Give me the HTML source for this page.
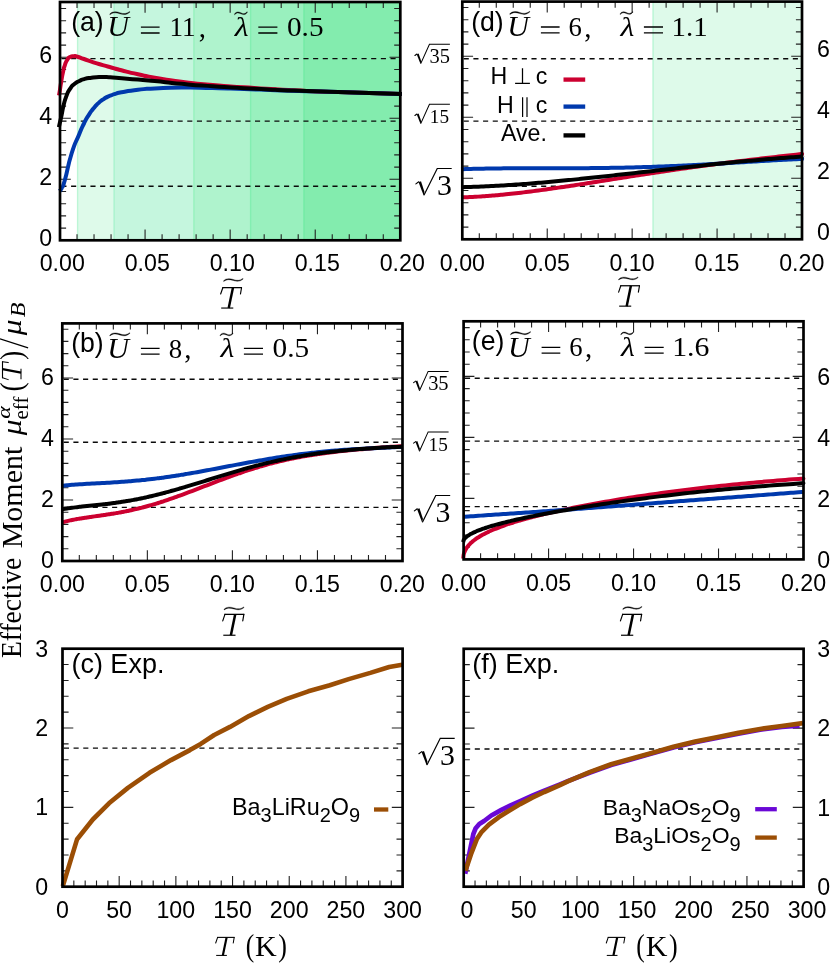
<!DOCTYPE html>
<html><head><meta charset="utf-8"><title>Effective moment</title>
<style>
html,body{margin:0;padding:0;background:#fff;}
body{width:830px;height:963px;overflow:hidden;font-family:"Liberation Sans",sans-serif;}
svg{display:block;will-change:transform;}
svg text{fill:#000;}
</style></head><body>
<svg width="830" height="963" viewBox="0 0 830 963">
<rect width="830" height="963" fill="#fff"/>
<rect x="76.8" y="2" width="36.8" height="238.3" fill="rgb(222,250,234)"/>
<rect x="113.3" y="2" width="80.1" height="238.3" fill="rgb(197,246,222)"/>
<rect x="193.1" y="2" width="57" height="238.3" fill="rgb(175,243,205)"/>
<rect x="249.8" y="2" width="53.6" height="238.3" fill="rgb(153,240,190)"/>
<rect x="303.1" y="2" width="97.5" height="238.3" fill="rgb(131,236,174)"/>
<rect x="77" y="2" width="1.3" height="238.3" fill="rgb(20,230,110)" fill-opacity="0.16"/>
<rect x="113.5" y="2" width="1.3" height="238.3" fill="rgb(20,230,110)" fill-opacity="0.16"/>
<rect x="193.3" y="2" width="1.3" height="238.3" fill="rgb(20,230,110)" fill-opacity="0.16"/>
<rect x="250" y="2" width="1.3" height="238.3" fill="rgb(20,230,110)" fill-opacity="0.16"/>
<rect x="303.3" y="2" width="1.3" height="238.3" fill="rgb(20,230,110)" fill-opacity="0.16"/>
<rect x="652.1" y="1.6" width="149.9" height="237.7" fill="rgb(222,250,234)"/>
<rect x="652.6" y="1.6" width="1.3" height="237.7" fill="rgb(20,230,110)" fill-opacity="0.16"/>
<line x1="60" y1="58.6" x2="400.3" y2="58.6" stroke="#0a0a0a" stroke-width="1.4" stroke-dasharray="5.1 4.58" stroke-dashoffset="-1.4"/>
<line x1="60" y1="121.1" x2="400.3" y2="121.1" stroke="#0a0a0a" stroke-width="1.4" stroke-dasharray="5.1 4.58" stroke-dashoffset="-1.4"/>
<line x1="60" y1="186.2" x2="400.3" y2="186.2" stroke="#0a0a0a" stroke-width="1.4" stroke-dasharray="5.1 4.58" stroke-dashoffset="-1.4"/>
<line x1="462.3" y1="58.7" x2="802" y2="58.7" stroke="#0a0a0a" stroke-width="1.4" stroke-dasharray="5.1 4.58" stroke-dashoffset="-1.4"/>
<line x1="462.3" y1="121.1" x2="802" y2="121.1" stroke="#0a0a0a" stroke-width="1.4" stroke-dasharray="5.1 4.58" stroke-dashoffset="-1.4"/>
<line x1="462.3" y1="186.3" x2="802" y2="186.3" stroke="#0a0a0a" stroke-width="1.4" stroke-dasharray="5.1 4.58" stroke-dashoffset="-1.4"/>
<line x1="62.3" y1="379.2" x2="402.5" y2="379.2" stroke="#0a0a0a" stroke-width="1.4" stroke-dasharray="5.1 4.58" stroke-dashoffset="-1.4"/>
<line x1="62.3" y1="442.2" x2="402.5" y2="442.2" stroke="#0a0a0a" stroke-width="1.4" stroke-dasharray="5.1 4.58" stroke-dashoffset="-1.4"/>
<line x1="62.3" y1="507.4" x2="402.5" y2="507.4" stroke="#0a0a0a" stroke-width="1.4" stroke-dasharray="5.1 4.58" stroke-dashoffset="-1.4"/>
<line x1="463.6" y1="378.3" x2="803.5" y2="378.3" stroke="#0a0a0a" stroke-width="1.4" stroke-dasharray="5.1 4.58" stroke-dashoffset="-1.4"/>
<line x1="463.6" y1="441.1" x2="803.5" y2="441.1" stroke="#0a0a0a" stroke-width="1.4" stroke-dasharray="5.1 4.58" stroke-dashoffset="-1.4"/>
<line x1="463.6" y1="506.6" x2="803.5" y2="506.6" stroke="#0a0a0a" stroke-width="1.4" stroke-dasharray="5.1 4.58" stroke-dashoffset="-1.4"/>
<line x1="62.5" y1="748.1" x2="402.6" y2="748.1" stroke="#0a0a0a" stroke-width="1.4" stroke-dasharray="5.1 4.58" stroke-dashoffset="-1.4"/>
<line x1="463.7" y1="749" x2="803.6" y2="749" stroke="#0a0a0a" stroke-width="1.4" stroke-dasharray="5.1 4.58" stroke-dashoffset="-1.4"/>
<path d="M77.02,240.3 v-6.1 M77.02,2 v6.1 M94.03,240.3 v-6.1 M94.03,2 v6.1 M111.05,240.3 v-6.1 M111.05,2 v6.1 M128.06,240.3 v-6.1 M128.06,2 v6.1 M145.07,240.3 v-10.8 M145.07,2 v10.8 M162.09,240.3 v-6.1 M162.09,2 v6.1 M179.1,240.3 v-6.1 M179.1,2 v6.1 M196.12,240.3 v-6.1 M196.12,2 v6.1 M213.14,240.3 v-6.1 M213.14,2 v6.1 M230.15,240.3 v-10.8 M230.15,2 v10.8 M247.17,240.3 v-6.1 M247.17,2 v6.1 M264.18,240.3 v-6.1 M264.18,2 v6.1 M281.2,240.3 v-6.1 M281.2,2 v6.1 M298.21,240.3 v-6.1 M298.21,2 v6.1 M315.23,240.3 v-10.8 M315.23,2 v10.8 M332.24,240.3 v-6.1 M332.24,2 v6.1 M349.25,240.3 v-6.1 M349.25,2 v6.1 M366.27,240.3 v-6.1 M366.27,2 v6.1 M383.28,240.3 v-6.1 M383.28,2 v6.1 M60,228.1 h6.1 M400.3,228.1 h-6.1 M60,215.9 h6.1 M400.3,215.9 h-6.1 M60,203.7 h6.1 M400.3,203.7 h-6.1 M60,191.5 h6.1 M400.3,191.5 h-6.1 M60,179.3 h10.8 M400.3,179.3 h-10.8 M60,167.1 h6.1 M400.3,167.1 h-6.1 M60,154.9 h6.1 M400.3,154.9 h-6.1 M60,142.7 h6.1 M400.3,142.7 h-6.1 M60,130.5 h6.1 M400.3,130.5 h-6.1 M60,118.3 h10.8 M400.3,118.3 h-10.8 M60,106.1 h6.1 M400.3,106.1 h-6.1 M60,93.9 h6.1 M400.3,93.9 h-6.1 M60,81.7 h6.1 M400.3,81.7 h-6.1 M60,69.5 h6.1 M400.3,69.5 h-6.1 M60,57.3 h10.8 M400.3,57.3 h-10.8 M60,45.1 h6.1 M400.3,45.1 h-6.1 M60,32.9 h6.1 M400.3,32.9 h-6.1 M60,20.7 h6.1 M400.3,20.7 h-6.1 M60,8.5 h6.1 M400.3,8.5 h-6.1" fill="none" stroke="#222" stroke-width="1.1"/>
<path d="M479.29,239.3 v-6.1 M479.29,1.6 v6.1 M496.27,239.3 v-6.1 M496.27,1.6 v6.1 M513.25,239.3 v-6.1 M513.25,1.6 v6.1 M530.24,239.3 v-6.1 M530.24,1.6 v6.1 M547.23,239.3 v-10.8 M547.23,1.6 v10.8 M564.21,239.3 v-6.1 M564.21,1.6 v6.1 M581.2,239.3 v-6.1 M581.2,1.6 v6.1 M598.18,239.3 v-6.1 M598.18,1.6 v6.1 M615.16,239.3 v-6.1 M615.16,1.6 v6.1 M632.15,239.3 v-10.8 M632.15,1.6 v10.8 M649.13,239.3 v-6.1 M649.13,1.6 v6.1 M666.12,239.3 v-6.1 M666.12,1.6 v6.1 M683.11,239.3 v-6.1 M683.11,1.6 v6.1 M700.09,239.3 v-6.1 M700.09,1.6 v6.1 M717.08,239.3 v-10.8 M717.08,1.6 v10.8 M734.06,239.3 v-6.1 M734.06,1.6 v6.1 M751.05,239.3 v-6.1 M751.05,1.6 v6.1 M768.03,239.3 v-6.1 M768.03,1.6 v6.1 M785.02,239.3 v-6.1 M785.02,1.6 v6.1 M462.3,227.1 h6.1 M802,227.1 h-6.1 M462.3,214.9 h6.1 M802,214.9 h-6.1 M462.3,202.7 h6.1 M802,202.7 h-6.1 M462.3,190.5 h6.1 M802,190.5 h-6.1 M462.3,178.3 h10.8 M802,178.3 h-10.8 M462.3,166.1 h6.1 M802,166.1 h-6.1 M462.3,153.9 h6.1 M802,153.9 h-6.1 M462.3,141.7 h6.1 M802,141.7 h-6.1 M462.3,129.5 h6.1 M802,129.5 h-6.1 M462.3,117.3 h10.8 M802,117.3 h-10.8 M462.3,105.1 h6.1 M802,105.1 h-6.1 M462.3,92.9 h6.1 M802,92.9 h-6.1 M462.3,80.7 h6.1 M802,80.7 h-6.1 M462.3,68.5 h6.1 M802,68.5 h-6.1 M462.3,56.3 h10.8 M802,56.3 h-10.8 M462.3,44.1 h6.1 M802,44.1 h-6.1 M462.3,31.9 h6.1 M802,31.9 h-6.1 M462.3,19.7 h6.1 M802,19.7 h-6.1 M462.3,7.5 h6.1 M802,7.5 h-6.1" fill="none" stroke="#222" stroke-width="1.1"/>
<path d="M79.31,561 v-6.1 M79.31,323.4 v6.1 M96.32,561 v-6.1 M96.32,323.4 v6.1 M113.33,561 v-6.1 M113.33,323.4 v6.1 M130.34,561 v-6.1 M130.34,323.4 v6.1 M147.35,561 v-10.8 M147.35,323.4 v10.8 M164.36,561 v-6.1 M164.36,323.4 v6.1 M181.37,561 v-6.1 M181.37,323.4 v6.1 M198.38,561 v-6.1 M198.38,323.4 v6.1 M215.39,561 v-6.1 M215.39,323.4 v6.1 M232.4,561 v-10.8 M232.4,323.4 v10.8 M249.41,561 v-6.1 M249.41,323.4 v6.1 M266.42,561 v-6.1 M266.42,323.4 v6.1 M283.43,561 v-6.1 M283.43,323.4 v6.1 M300.44,561 v-6.1 M300.44,323.4 v6.1 M317.45,561 v-10.8 M317.45,323.4 v10.8 M334.46,561 v-6.1 M334.46,323.4 v6.1 M351.47,561 v-6.1 M351.47,323.4 v6.1 M368.48,561 v-6.1 M368.48,323.4 v6.1 M385.49,561 v-6.1 M385.49,323.4 v6.1 M62.3,548.8 h6.1 M402.5,548.8 h-6.1 M62.3,536.6 h6.1 M402.5,536.6 h-6.1 M62.3,524.4 h6.1 M402.5,524.4 h-6.1 M62.3,512.2 h6.1 M402.5,512.2 h-6.1 M62.3,500 h10.8 M402.5,500 h-10.8 M62.3,487.8 h6.1 M402.5,487.8 h-6.1 M62.3,475.6 h6.1 M402.5,475.6 h-6.1 M62.3,463.4 h6.1 M402.5,463.4 h-6.1 M62.3,451.2 h6.1 M402.5,451.2 h-6.1 M62.3,439 h10.8 M402.5,439 h-10.8 M62.3,426.8 h6.1 M402.5,426.8 h-6.1 M62.3,414.6 h6.1 M402.5,414.6 h-6.1 M62.3,402.4 h6.1 M402.5,402.4 h-6.1 M62.3,390.2 h6.1 M402.5,390.2 h-6.1 M62.3,378 h10.8 M402.5,378 h-10.8 M62.3,365.8 h6.1 M402.5,365.8 h-6.1 M62.3,353.6 h6.1 M402.5,353.6 h-6.1 M62.3,341.4 h6.1 M402.5,341.4 h-6.1 M62.3,329.2 h6.1 M402.5,329.2 h-6.1" fill="none" stroke="#222" stroke-width="1.1"/>
<path d="M480.6,559.4 v-6.1 M480.6,321.3 v6.1 M497.59,559.4 v-6.1 M497.59,321.3 v6.1 M514.59,559.4 v-6.1 M514.59,321.3 v6.1 M531.58,559.4 v-6.1 M531.58,321.3 v6.1 M548.58,559.4 v-10.8 M548.58,321.3 v10.8 M565.57,559.4 v-6.1 M565.57,321.3 v6.1 M582.57,559.4 v-6.1 M582.57,321.3 v6.1 M599.56,559.4 v-6.1 M599.56,321.3 v6.1 M616.56,559.4 v-6.1 M616.56,321.3 v6.1 M633.55,559.4 v-10.8 M633.55,321.3 v10.8 M650.55,559.4 v-6.1 M650.55,321.3 v6.1 M667.54,559.4 v-6.1 M667.54,321.3 v6.1 M684.54,559.4 v-6.1 M684.54,321.3 v6.1 M701.53,559.4 v-6.1 M701.53,321.3 v6.1 M718.53,559.4 v-10.8 M718.53,321.3 v10.8 M735.52,559.4 v-6.1 M735.52,321.3 v6.1 M752.51,559.4 v-6.1 M752.51,321.3 v6.1 M769.51,559.4 v-6.1 M769.51,321.3 v6.1 M786.5,559.4 v-6.1 M786.5,321.3 v6.1 M463.6,547.2 h6.1 M803.5,547.2 h-6.1 M463.6,535 h6.1 M803.5,535 h-6.1 M463.6,522.8 h6.1 M803.5,522.8 h-6.1 M463.6,510.6 h6.1 M803.5,510.6 h-6.1 M463.6,498.4 h10.8 M803.5,498.4 h-10.8 M463.6,486.2 h6.1 M803.5,486.2 h-6.1 M463.6,474 h6.1 M803.5,474 h-6.1 M463.6,461.8 h6.1 M803.5,461.8 h-6.1 M463.6,449.6 h6.1 M803.5,449.6 h-6.1 M463.6,437.4 h10.8 M803.5,437.4 h-10.8 M463.6,425.2 h6.1 M803.5,425.2 h-6.1 M463.6,413 h6.1 M803.5,413 h-6.1 M463.6,400.8 h6.1 M803.5,400.8 h-6.1 M463.6,388.6 h6.1 M803.5,388.6 h-6.1 M463.6,376.4 h10.8 M803.5,376.4 h-10.8 M463.6,364.2 h6.1 M803.5,364.2 h-6.1 M463.6,352 h6.1 M803.5,352 h-6.1 M463.6,339.8 h6.1 M803.5,339.8 h-6.1 M463.6,327.6 h6.1 M803.5,327.6 h-6.1" fill="none" stroke="#222" stroke-width="1.1"/>
<path d="M73.84,886.7 v-6.1 M85.17,886.7 v-6.1 M96.51,886.7 v-6.1 M107.85,886.7 v-6.1 M119.18,886.7 v-10.8 M130.52,886.7 v-6.1 M141.86,886.7 v-6.1 M153.19,886.7 v-6.1 M164.53,886.7 v-6.1 M175.87,886.7 v-10.8 M187.2,886.7 v-6.1 M198.54,886.7 v-6.1 M209.88,886.7 v-6.1 M221.21,886.7 v-6.1 M232.55,886.7 v-10.8 M243.89,886.7 v-6.1 M255.22,886.7 v-6.1 M266.56,886.7 v-6.1 M277.9,886.7 v-6.1 M289.23,886.7 v-10.8 M300.57,886.7 v-6.1 M311.91,886.7 v-6.1 M323.24,886.7 v-6.1 M334.58,886.7 v-6.1 M345.92,886.7 v-10.8 M357.25,886.7 v-6.1 M368.59,886.7 v-6.1 M379.93,886.7 v-6.1 M391.26,886.7 v-6.1 M62.5,870.83 h6.1 M402.6,870.83 h-6.1 M62.5,854.97 h6.1 M402.6,854.97 h-6.1 M62.5,839.1 h6.1 M402.6,839.1 h-6.1 M62.5,823.23 h6.1 M402.6,823.23 h-6.1 M62.5,807.37 h10.8 M402.6,807.37 h-10.8 M62.5,791.5 h6.1 M402.6,791.5 h-6.1 M62.5,775.63 h6.1 M402.6,775.63 h-6.1 M62.5,759.77 h6.1 M402.6,759.77 h-6.1 M62.5,743.9 h6.1 M402.6,743.9 h-6.1 M62.5,728.03 h10.8 M402.6,728.03 h-10.8 M62.5,712.17 h6.1 M402.6,712.17 h-6.1 M62.5,696.3 h6.1 M402.6,696.3 h-6.1 M62.5,680.43 h6.1 M402.6,680.43 h-6.1 M62.5,664.57 h6.1 M402.6,664.57 h-6.1" fill="none" stroke="#222" stroke-width="1.1"/>
<path d="M475.03,886.7 v-6.1 M486.36,886.7 v-6.1 M497.69,886.7 v-6.1 M509.02,886.7 v-6.1 M520.35,886.7 v-10.8 M531.68,886.7 v-6.1 M543.01,886.7 v-6.1 M554.34,886.7 v-6.1 M565.67,886.7 v-6.1 M577,886.7 v-10.8 M588.33,886.7 v-6.1 M599.66,886.7 v-6.1 M610.99,886.7 v-6.1 M622.32,886.7 v-6.1 M633.65,886.7 v-10.8 M644.98,886.7 v-6.1 M656.31,886.7 v-6.1 M667.64,886.7 v-6.1 M678.97,886.7 v-6.1 M690.3,886.7 v-10.8 M701.63,886.7 v-6.1 M712.96,886.7 v-6.1 M724.29,886.7 v-6.1 M735.62,886.7 v-6.1 M746.95,886.7 v-10.8 M758.28,886.7 v-6.1 M769.61,886.7 v-6.1 M780.94,886.7 v-6.1 M792.27,886.7 v-6.1 M463.7,870.84 h6.1 M803.6,870.84 h-6.1 M463.7,854.98 h6.1 M803.6,854.98 h-6.1 M463.7,839.12 h6.1 M803.6,839.12 h-6.1 M463.7,823.26 h6.1 M803.6,823.26 h-6.1 M463.7,807.4 h10.8 M803.6,807.4 h-10.8 M463.7,791.54 h6.1 M803.6,791.54 h-6.1 M463.7,775.68 h6.1 M803.6,775.68 h-6.1 M463.7,759.82 h6.1 M803.6,759.82 h-6.1 M463.7,743.96 h6.1 M803.6,743.96 h-6.1 M463.7,728.1 h10.8 M803.6,728.1 h-10.8 M463.7,712.24 h6.1 M803.6,712.24 h-6.1 M463.7,696.38 h6.1 M803.6,696.38 h-6.1 M463.7,680.52 h6.1 M803.6,680.52 h-6.1 M463.7,664.66 h6.1 M803.6,664.66 h-6.1" fill="none" stroke="#222" stroke-width="1.1"/>
<path d="M58.9,95.5 C59.13,94.33 58.87,96.37 59.6,92 C60.33,87.63 59.97,89.03 61.1,82.4 C62.23,75.77 61.73,77.87 63,72.1 C64.27,66.33 63.5,69.13 64.9,65.1 C66.3,61.07 65.5,62.67 67.2,60 C68.9,57.33 67.8,58.37 70,57.1 C72.2,55.83 71.3,56.33 73.8,56.2 C76.3,56.07 74.1,55.77 77.5,56.7 C80.9,57.63 78.7,57.13 84,59 C89.3,60.87 87.17,60.27 93.4,62.3 C99.63,64.33 96.47,63.3 102.7,65.1 C108.93,66.9 105.87,65.97 112.1,67.7 C118.33,69.43 112.77,68.1 121.4,70.3 C130.03,72.5 126.9,71.87 138,74.3 C149.1,76.73 140.27,75.1 154.7,77.6 C169.13,80.1 161.97,79.33 181.3,81.8 C200.63,84.27 191.8,83.17 212.7,85 C233.6,86.83 223.13,85.87 244,87.3 C264.87,88.73 254.43,88.07 275.3,89.3 C296.17,90.53 285.7,90.1 306.6,91 C327.5,91.9 317.1,91.37 338,92 C358.9,92.63 348.03,92.25 369.3,92.9 C390.57,93.55 390.97,93.6 401.8,93.95" fill="none" stroke="#cc0030" stroke-width="4" stroke-linejoin="round" stroke-linecap="butt"/>
<path d="M59.6,191 C60.27,190.1 59.8,192.13 61.6,188.3 C63.4,184.47 61.67,191.1 65,179.5 C68.33,167.9 66.97,168.33 71.6,153.5 C76.23,138.67 74.77,145 78.9,135 C83.03,125 80.73,130.13 84,123.5 C87.27,116.87 85.57,120.07 88.7,115.1 C91.83,110.13 90.27,112.5 93.4,108.6 C96.53,104.7 95,106.37 98.1,103.4 C101.2,100.43 99.6,101.87 102.7,99.7 C105.8,97.53 104.27,98.47 107.4,96.9 C110.53,95.33 109.23,96.1 112.1,95 C114.97,93.9 112.9,94.5 116,93.6 C119.1,92.7 114.07,93.57 121.4,92.3 C128.73,91.03 126.9,91.07 138,89.8 C149.1,88.53 140.27,89.23 154.7,88.5 C169.13,87.77 161.97,87.77 181.3,87.6 C200.63,87.43 191.8,87.53 212.7,88 C233.6,88.47 223.13,88.27 244,89 C264.87,89.73 254.43,89.47 275.3,90.2 C296.17,90.93 285.7,90.6 306.6,91.2 C327.5,91.8 317.1,91.43 338,92 C358.9,92.57 348.03,92.25 369.3,92.9 C390.57,93.55 390.97,93.6 401.8,93.95" fill="none" stroke="#0039ad" stroke-width="4" stroke-linejoin="round" stroke-linecap="butt"/>
<path d="M58.9,127.2 C59.13,126.13 58.7,128.03 59.6,124 C60.5,119.97 60.3,121.2 61.6,115.1 C62.9,109 61.93,111.93 63.5,105.7 C65.07,99.47 64.13,102 66.3,96.4 C68.47,90.8 67.2,93.1 70,88.9 C72.8,84.7 71.57,86.43 74.7,83.8 C77.83,81.17 76.3,82.57 79.4,81 C82.5,79.43 79.97,80.2 84,79.1 C88.03,78 86.5,78.37 91.5,77.7 C96.5,77.03 94,77.3 99,77.1 C104,76.9 100.83,76.9 106.5,77.1 C112.17,77.3 105.5,76.87 116,77.7 C126.5,78.53 125.1,78.5 138,79.6 C150.9,80.7 140.27,79.6 154.7,81 C169.13,82.4 161.97,82.03 181.3,83.8 C200.63,85.57 191.8,84.83 212.7,86.3 C233.6,87.77 223.13,87.03 244,88.2 C264.87,89.37 254.43,88.87 275.3,89.8 C296.17,90.73 285.7,90.27 306.6,91 C327.5,91.73 317.1,91.37 338,92 C358.9,92.63 348.03,92.25 369.3,92.9 C390.57,93.55 390.97,93.6 401.8,93.95" fill="none" stroke="#000000" stroke-width="4" stroke-linejoin="round" stroke-linecap="butt"/>
<path d="M461,197.37 C462.67,197.32 462.67,197.34 466,197.21 C469.33,197.09 467.67,197.16 471,197 C474.33,196.84 472.67,196.93 476,196.74 C479.33,196.55 477.67,196.66 481,196.44 C484.33,196.22 482.67,196.34 486,196.09 C489.33,195.85 487.67,195.98 491,195.71 C494.33,195.44 492.67,195.58 496,195.28 C499.33,194.99 497.67,195.14 501,194.82 C504.33,194.51 502.67,194.67 506,194.33 C509.33,193.99 507.67,194.17 511,193.81 C514.33,193.45 512.67,193.63 516,193.26 C519.33,192.88 517.67,193.07 521,192.68 C524.33,192.28 522.67,192.48 526,192.07 C529.33,191.66 527.67,191.87 531,191.44 C534.33,191.01 532.67,191.23 536,190.79 C539.33,190.35 537.67,190.57 541,190.12 C544.33,189.67 542.67,189.9 546,189.43 C549.33,188.97 547.67,189.2 551,188.73 C554.33,188.25 552.67,188.49 556,188.01 C559.33,187.52 557.67,187.77 561,187.28 C564.33,186.78 562.67,187.03 566,186.53 C569.33,186.03 567.67,186.28 571,185.78 C574.33,185.27 572.67,185.53 576,185.01 C579.33,184.5 577.67,184.76 581,184.24 C584.33,183.73 582.67,183.99 586,183.47 C589.33,182.95 587.67,183.21 591,182.69 C594.33,182.16 592.67,182.42 596,181.9 C599.33,181.38 597.67,181.64 601,181.11 C604.33,180.59 602.67,180.85 606,180.32 C609.33,179.8 607.67,180.06 611,179.53 C614.33,179.01 612.67,179.27 616,178.75 C619.33,178.22 617.67,178.48 621,177.96 C624.33,177.43 622.67,177.7 626,177.17 C629.33,176.65 627.67,176.91 631,176.39 C634.33,175.87 632.67,176.13 636,175.61 C639.33,175.1 637.67,175.35 641,174.84 C644.33,174.33 642.67,174.58 646,174.07 C649.33,173.56 647.67,173.82 651,173.31 C654.33,172.81 652.67,173.06 656,172.56 C659.33,172.05 657.67,172.3 661,171.81 C664.33,171.31 662.67,171.56 666,171.07 C669.33,170.58 667.67,170.82 671,170.33 C674.33,169.85 672.67,170.09 676,169.61 C679.33,169.13 677.67,169.37 681,168.89 C684.33,168.42 682.67,168.65 686,168.19 C689.33,167.72 687.67,167.95 691,167.49 C694.33,167.02 692.67,167.25 696,166.8 C699.33,166.34 697.67,166.57 701,166.12 C704.33,165.67 702.67,165.89 706,165.45 C709.33,165 707.67,165.22 711,164.78 C714.33,164.35 712.67,164.56 716,164.13 C719.33,163.7 717.67,163.91 721,163.49 C724.33,163.06 722.67,163.27 726,162.85 C729.33,162.43 727.67,162.64 731,162.22 C734.33,161.81 732.67,162.01 736,161.6 C739.33,161.19 737.67,161.4 741,160.99 C744.33,160.59 742.67,160.79 746,160.39 C749.33,159.99 747.67,160.19 751,159.79 C754.33,159.39 752.67,159.59 756,159.2 C759.33,158.81 757.67,159 761,158.61 C764.33,158.22 762.67,158.42 766,158.03 C769.33,157.65 767.67,157.84 771,157.46 C774.33,157.07 772.67,157.27 776,156.88 C779.33,156.5 777.67,156.69 781,156.32 C784.33,155.94 782.67,156.13 786,155.75 C789.33,155.37 787.67,155.56 791,155.18 C794.33,154.8 792.67,154.99 796,154.62 C799.33,154.24 799,154.28 801,154.05 C803,153.82 801.67,153.97 802,153.94" fill="none" stroke="#cc0030" stroke-width="4" stroke-linejoin="round" stroke-linecap="butt"/>
<path d="M461,169.28 C462.67,169.22 462.67,169.21 466,169.1 C469.33,168.98 467.67,169.04 471,168.94 C474.33,168.84 472.67,168.89 476,168.8 C479.33,168.72 477.67,168.76 481,168.68 C484.33,168.61 482.67,168.65 486,168.59 C489.33,168.53 487.67,168.55 491,168.5 C494.33,168.45 492.67,168.48 496,168.44 C499.33,168.4 497.67,168.42 501,168.38 C504.33,168.35 502.67,168.37 506,168.34 C509.33,168.32 507.67,168.33 511,168.31 C514.33,168.29 512.67,168.3 516,168.29 C519.33,168.27 517.67,168.28 521,168.27 C524.33,168.26 522.67,168.27 526,168.26 C529.33,168.26 527.67,168.26 531,168.26 C534.33,168.25 532.67,168.25 536,168.25 C539.33,168.25 537.67,168.25 541,168.25 C544.33,168.25 542.67,168.25 546,168.25 C549.33,168.25 547.67,168.25 551,168.25 C554.33,168.25 552.67,168.25 556,168.25 C559.33,168.25 557.67,168.25 561,168.24 C564.33,168.24 562.67,168.24 566,168.24 C569.33,168.23 567.67,168.23 571,168.22 C574.33,168.21 572.67,168.22 576,168.2 C579.33,168.19 577.67,168.2 581,168.18 C584.33,168.16 582.67,168.17 586,168.15 C589.33,168.12 587.67,168.14 591,168.11 C594.33,168.08 592.67,168.1 596,168.06 C599.33,168.03 597.67,168.05 601,168.01 C604.33,167.97 602.67,167.99 606,167.94 C609.33,167.89 607.67,167.92 611,167.87 C614.33,167.81 612.67,167.84 616,167.78 C619.33,167.72 617.67,167.75 621,167.68 C624.33,167.62 622.67,167.65 626,167.58 C629.33,167.5 627.67,167.54 631,167.46 C634.33,167.38 632.67,167.42 636,167.33 C639.33,167.24 637.67,167.29 641,167.19 C644.33,167.09 642.67,167.15 646,167.04 C649.33,166.94 647.67,166.99 651,166.88 C654.33,166.77 652.67,166.82 656,166.7 C659.33,166.58 657.67,166.65 661,166.52 C664.33,166.39 662.67,166.46 666,166.32 C669.33,166.19 667.67,166.26 671,166.11 C674.33,165.97 672.67,166.04 676,165.9 C679.33,165.75 677.67,165.82 681,165.67 C684.33,165.51 682.67,165.59 686,165.43 C689.33,165.27 687.67,165.35 691,165.18 C694.33,165.01 692.67,165.1 696,164.92 C699.33,164.75 697.67,164.84 701,164.66 C704.33,164.48 702.67,164.57 706,164.39 C709.33,164.2 707.67,164.29 711,164.11 C714.33,163.92 712.67,164.01 716,163.82 C719.33,163.63 717.67,163.72 721,163.53 C724.33,163.33 722.67,163.43 726,163.23 C729.33,163.03 727.67,163.13 731,162.93 C734.33,162.73 732.67,162.83 736,162.62 C739.33,162.42 737.67,162.52 741,162.32 C744.33,162.11 742.67,162.21 746,162.01 C749.33,161.81 747.67,161.91 751,161.7 C754.33,161.5 752.67,161.6 756,161.4 C759.33,161.19 757.67,161.29 761,161.09 C764.33,160.89 762.67,160.99 766,160.79 C769.33,160.6 767.67,160.69 771,160.5 C774.33,160.31 772.67,160.4 776,160.21 C779.33,160.02 777.67,160.12 781,159.93 C784.33,159.75 782.67,159.84 786,159.66 C789.33,159.49 787.67,159.57 791,159.4 C794.33,159.23 792.67,159.32 796,159.16 C799.33,159 799,159.02 801,158.92 C803,158.83 801.67,158.89 802,158.88" fill="none" stroke="#0039ad" stroke-width="4" stroke-linejoin="round" stroke-linecap="butt"/>
<path d="M461,187.22 C462.67,187.18 462.67,187.19 466,187.1 C469.33,187.01 467.67,187.05 471,186.95 C474.33,186.84 472.67,186.9 476,186.77 C479.33,186.65 477.67,186.72 481,186.58 C484.33,186.44 482.67,186.51 486,186.36 C489.33,186.2 487.67,186.28 491,186.11 C494.33,185.95 492.67,186.03 496,185.85 C499.33,185.67 497.67,185.76 501,185.57 C504.33,185.37 502.67,185.47 506,185.26 C509.33,185.05 507.67,185.16 511,184.94 C514.33,184.72 512.67,184.83 516,184.6 C519.33,184.37 517.67,184.49 521,184.24 C524.33,184 522.67,184.12 526,183.87 C529.33,183.61 527.67,183.74 531,183.48 C534.33,183.21 532.67,183.34 536,183.07 C539.33,182.79 537.67,182.93 541,182.65 C544.33,182.36 542.67,182.51 546,182.22 C549.33,181.92 547.67,182.07 551,181.77 C554.33,181.47 552.67,181.62 556,181.31 C559.33,181 557.67,181.16 561,180.84 C564.33,180.52 562.67,180.68 566,180.36 C569.33,180.03 567.67,180.2 571,179.87 C574.33,179.54 572.67,179.7 576,179.37 C579.33,179.03 577.67,179.2 581,178.86 C584.33,178.51 582.67,178.69 586,178.34 C589.33,177.99 587.67,178.17 591,177.81 C594.33,177.46 592.67,177.64 596,177.28 C599.33,176.93 597.67,177.11 601,176.75 C604.33,176.39 602.67,176.57 606,176.2 C609.33,175.84 607.67,176.02 611,175.66 C614.33,175.29 612.67,175.47 616,175.1 C619.33,174.73 617.67,174.92 621,174.55 C624.33,174.18 622.67,174.36 626,173.99 C629.33,173.62 627.67,173.8 631,173.43 C634.33,173.05 632.67,173.24 636,172.87 C639.33,172.49 637.67,172.68 641,172.3 C644.33,171.93 642.67,172.11 646,171.74 C649.33,171.36 647.67,171.55 651,171.17 C654.33,170.8 652.67,170.98 656,170.61 C659.33,170.23 657.67,170.42 661,170.04 C664.33,169.67 662.67,169.86 666,169.48 C669.33,169.11 667.67,169.3 671,168.92 C674.33,168.55 672.67,168.74 676,168.37 C679.33,168 677.67,168.18 681,167.81 C684.33,167.44 682.67,167.63 686,167.26 C689.33,166.9 687.67,167.08 691,166.71 C694.33,166.35 692.67,166.53 696,166.17 C699.33,165.81 697.67,165.99 701,165.64 C704.33,165.28 702.67,165.46 706,165.1 C709.33,164.75 707.67,164.93 711,164.58 C714.33,164.23 712.67,164.4 716,164.06 C719.33,163.72 717.67,163.89 721,163.55 C724.33,163.21 722.67,163.38 726,163.04 C729.33,162.71 727.67,162.87 731,162.54 C734.33,162.22 732.67,162.38 736,162.06 C739.33,161.73 737.67,161.89 741,161.57 C744.33,161.26 742.67,161.41 746,161.1 C749.33,160.79 747.67,160.95 751,160.64 C754.33,160.34 752.67,160.49 756,160.19 C759.33,159.89 757.67,160.04 761,159.74 C764.33,159.45 762.67,159.6 766,159.31 C769.33,159.03 767.67,159.17 771,158.89 C774.33,158.61 772.67,158.75 776,158.48 C779.33,158.21 777.67,158.34 781,158.08 C784.33,157.82 782.67,157.95 786,157.69 C789.33,157.44 787.67,157.56 791,157.32 C794.33,157.07 792.67,157.19 796,156.95 C799.33,156.72 799,156.74 801,156.6 C803,156.46 801.67,156.56 802,156.54" fill="none" stroke="#000000" stroke-width="4" stroke-linejoin="round" stroke-linecap="butt"/>
<path d="M62,522.46 C63.67,522.02 63.67,521.95 67,521.13 C70.33,520.32 68.67,520.71 72,520.01 C75.33,519.32 73.67,519.65 77,519.05 C80.33,518.45 78.67,518.74 82,518.21 C85.33,517.67 83.67,517.94 87,517.45 C90.33,516.95 88.67,517.2 92,516.73 C95.33,516.26 93.67,516.5 97,516.03 C100.33,515.56 98.67,515.81 102,515.33 C105.33,514.85 103.67,515.1 107,514.59 C110.33,514.09 108.67,514.35 112,513.81 C115.33,513.27 113.67,513.56 117,512.97 C120.33,512.39 118.67,512.7 122,512.07 C125.33,511.43 123.67,511.76 127,511.08 C130.33,510.39 128.67,510.75 132,510.01 C135.33,509.26 133.67,509.65 137,508.85 C140.33,508.05 138.67,508.46 142,507.6 C145.33,506.74 143.67,507.18 147,506.26 C150.33,505.34 148.67,505.82 152,504.84 C155.33,503.87 153.67,504.37 157,503.34 C160.33,502.31 158.67,502.83 162,501.76 C165.33,500.68 163.67,501.23 167,500.1 C170.33,498.98 168.67,499.55 172,498.38 C175.33,497.22 173.67,497.81 177,496.61 C180.33,495.41 178.67,496.02 182,494.79 C185.33,493.56 183.67,494.18 187,492.92 C190.33,491.67 188.67,492.3 192,491.03 C195.33,489.76 193.67,490.4 197,489.12 C200.33,487.83 198.67,488.47 202,487.19 C205.33,485.9 203.67,486.54 207,485.26 C210.33,483.97 208.67,484.61 212,483.33 C215.33,482.05 213.67,482.68 217,481.42 C220.33,480.15 218.67,480.78 222,479.52 C225.33,478.27 223.67,478.89 227,477.66 C230.33,476.43 228.67,477.04 232,475.84 C235.33,474.64 233.67,475.23 237,474.06 C240.33,472.89 238.67,473.46 242,472.33 C245.33,471.19 243.67,471.75 247,470.65 C250.33,469.55 248.67,470.09 252,469.03 C255.33,467.98 253.67,468.49 257,467.48 C260.33,466.47 258.67,466.96 262,466 C265.33,465.03 263.67,465.5 267,464.58 C270.33,463.66 268.67,464.11 272,463.23 C275.33,462.36 273.67,462.78 277,461.96 C280.33,461.13 278.67,461.53 282,460.75 C285.33,459.97 283.67,460.35 287,459.62 C290.33,458.89 288.67,459.24 292,458.56 C295.33,457.87 293.67,458.2 297,457.56 C300.33,456.92 298.67,457.23 302,456.63 C305.33,456.03 303.67,456.32 307,455.76 C310.33,455.2 308.67,455.48 312,454.95 C315.33,454.43 313.67,454.69 317,454.2 C320.33,453.71 318.67,453.95 322,453.49 C325.33,453.04 323.67,453.26 327,452.83 C330.33,452.41 328.67,452.62 332,452.22 C335.33,451.82 333.67,452.01 337,451.63 C340.33,451.26 338.67,451.44 342,451.09 C345.33,450.73 343.67,450.9 347,450.56 C350.33,450.23 348.67,450.39 352,450.07 C355.33,449.74 353.67,449.9 357,449.59 C360.33,449.28 358.67,449.43 362,449.14 C365.33,448.84 363.67,448.98 367,448.7 C370.33,448.41 368.67,448.55 372,448.27 C375.33,447.99 373.67,448.13 377,447.86 C380.33,447.6 378.67,447.73 382,447.48 C385.33,447.22 383.67,447.34 387,447.11 C390.33,446.87 388.67,446.98 392,446.77 C395.33,446.56 393.67,446.65 397,446.47 C400.33,446.28 400.33,446.29 402,446.21" fill="none" stroke="#cc0030" stroke-width="4" stroke-linejoin="round" stroke-linecap="butt"/>
<path d="M62,485.77 C63.67,485.6 63.67,485.58 67,485.27 C70.33,484.96 68.67,485.11 72,484.85 C75.33,484.59 73.67,484.71 77,484.48 C80.33,484.26 78.67,484.37 82,484.16 C85.33,483.96 83.67,484.06 87,483.87 C90.33,483.69 88.67,483.78 92,483.6 C95.33,483.42 93.67,483.51 97,483.34 C100.33,483.16 98.67,483.25 102,483.07 C105.33,482.89 103.67,482.98 107,482.79 C110.33,482.6 108.67,482.7 112,482.5 C115.33,482.29 113.67,482.4 117,482.18 C120.33,481.96 118.67,482.07 122,481.83 C125.33,481.59 123.67,481.72 127,481.45 C130.33,481.19 128.67,481.33 132,481.04 C135.33,480.75 133.67,480.9 137,480.59 C140.33,480.27 138.67,480.44 142,480.09 C145.33,479.75 143.67,479.93 147,479.56 C150.33,479.19 148.67,479.38 152,478.99 C155.33,478.59 153.67,478.79 157,478.37 C160.33,477.95 158.67,478.16 162,477.71 C165.33,477.26 163.67,477.5 167,477.02 C170.33,476.54 168.67,476.79 172,476.29 C175.33,475.79 173.67,476.04 177,475.52 C180.33,475 178.67,475.27 182,474.72 C185.33,474.18 183.67,474.46 187,473.89 C190.33,473.33 188.67,473.62 192,473.04 C195.33,472.46 193.67,472.75 197,472.16 C200.33,471.56 198.67,471.86 202,471.26 C205.33,470.65 203.67,470.95 207,470.34 C210.33,469.72 208.67,470.03 212,469.4 C215.33,468.78 213.67,469.09 217,468.46 C220.33,467.83 218.67,468.15 222,467.51 C225.33,466.88 223.67,467.2 227,466.56 C230.33,465.93 228.67,466.24 232,465.61 C235.33,464.98 233.67,465.29 237,464.66 C240.33,464.03 238.67,464.35 242,463.72 C245.33,463.1 243.67,463.41 247,462.79 C250.33,462.18 248.67,462.48 252,461.88 C255.33,461.27 253.67,461.57 257,460.98 C260.33,460.39 258.67,460.68 262,460.1 C265.33,459.52 263.67,459.81 267,459.24 C270.33,458.68 268.67,458.96 272,458.41 C275.33,457.86 273.67,458.13 277,457.6 C280.33,457.08 278.67,457.33 282,456.83 C285.33,456.32 283.67,456.57 287,456.08 C290.33,455.59 288.67,455.83 292,455.36 C295.33,454.9 293.67,455.13 297,454.68 C300.33,454.24 298.67,454.45 302,454.03 C305.33,453.61 303.67,453.82 307,453.42 C310.33,453.02 308.67,453.21 312,452.84 C315.33,452.46 313.67,452.64 317,452.29 C320.33,451.94 318.67,452.11 322,451.78 C325.33,451.45 323.67,451.61 327,451.3 C330.33,450.99 328.67,451.14 332,450.85 C335.33,450.56 333.67,450.7 337,450.44 C340.33,450.17 338.67,450.3 342,450.05 C345.33,449.8 343.67,449.92 347,449.69 C350.33,449.46 348.67,449.57 352,449.36 C355.33,449.15 353.67,449.25 357,449.05 C360.33,448.86 358.67,448.95 362,448.77 C365.33,448.58 363.67,448.67 367,448.5 C370.33,448.33 368.67,448.41 372,448.25 C375.33,448.09 373.67,448.17 377,448.01 C380.33,447.85 378.67,447.93 382,447.78 C385.33,447.63 383.67,447.71 387,447.56 C390.33,447.41 388.67,447.49 392,447.34 C395.33,447.19 393.67,447.27 397,447.12 C400.33,446.97 400.33,446.97 402,446.89" fill="none" stroke="#0039ad" stroke-width="4" stroke-linejoin="round" stroke-linecap="butt"/>
<path d="M62,509.29 C63.67,509.02 63.67,508.98 67,508.48 C70.33,507.98 68.67,508.22 72,507.79 C75.33,507.35 73.67,507.56 77,507.17 C80.33,506.78 78.67,506.98 82,506.61 C85.33,506.25 83.67,506.43 87,506.08 C90.33,505.73 88.67,505.91 92,505.56 C95.33,505.21 93.67,505.39 97,505.03 C100.33,504.67 98.67,504.86 102,504.48 C105.33,504.1 103.67,504.3 107,503.89 C110.33,503.49 108.67,503.7 112,503.26 C115.33,502.82 113.67,503.05 117,502.58 C120.33,502.1 118.67,502.35 122,501.84 C125.33,501.32 123.67,501.59 127,501.03 C130.33,500.47 128.67,500.76 132,500.15 C135.33,499.55 133.67,499.86 137,499.21 C140.33,498.56 138.67,498.9 142,498.2 C145.33,497.5 143.67,497.86 147,497.12 C150.33,496.38 148.67,496.76 152,495.98 C155.33,495.19 153.67,495.59 157,494.77 C160.33,493.94 158.67,494.36 162,493.5 C165.33,492.64 163.67,493.07 167,492.18 C170.33,491.28 168.67,491.73 172,490.8 C175.33,489.87 173.67,490.34 177,489.38 C180.33,488.42 178.67,488.91 182,487.92 C185.33,486.94 183.67,487.44 187,486.43 C190.33,485.43 188.67,485.93 192,484.92 C195.33,483.9 193.67,484.41 197,483.38 C200.33,482.35 198.67,482.86 202,481.83 C205.33,480.79 203.67,481.31 207,480.27 C210.33,479.23 208.67,479.74 212,478.71 C215.33,477.67 213.67,478.18 217,477.15 C220.33,476.12 218.67,476.63 222,475.6 C225.33,474.58 223.67,475.09 227,474.08 C230.33,473.07 228.67,473.57 232,472.57 C235.33,471.58 233.67,472.07 237,471.09 C240.33,470.12 238.67,470.6 242,469.65 C245.33,468.69 243.67,469.16 247,468.24 C250.33,467.31 248.67,467.76 252,466.86 C255.33,465.97 253.67,466.41 257,465.54 C260.33,464.67 258.67,465.09 262,464.26 C265.33,463.42 263.67,463.83 267,463.03 C270.33,462.22 268.67,462.61 272,461.84 C275.33,461.07 273.67,461.45 277,460.71 C280.33,459.98 278.67,460.34 282,459.64 C285.33,458.94 283.67,459.28 287,458.62 C290.33,457.95 288.67,458.28 292,457.65 C295.33,457.02 293.67,457.32 297,456.73 C300.33,456.14 298.67,456.43 302,455.87 C305.33,455.31 303.67,455.58 307,455.06 C310.33,454.53 308.67,454.79 312,454.29 C315.33,453.8 313.67,454.04 317,453.58 C320.33,453.12 318.67,453.34 322,452.91 C325.33,452.48 323.67,452.69 327,452.29 C330.33,451.88 328.67,452.08 332,451.7 C335.33,451.33 333.67,451.51 337,451.16 C340.33,450.8 338.67,450.98 342,450.65 C345.33,450.32 343.67,450.48 347,450.17 C350.33,449.86 348.67,450.01 352,449.73 C355.33,449.44 353.67,449.58 357,449.31 C360.33,449.04 358.67,449.17 362,448.92 C365.33,448.67 363.67,448.79 367,448.56 C370.33,448.32 368.67,448.44 372,448.22 C375.33,448 373.67,448.11 377,447.9 C380.33,447.7 378.67,447.8 382,447.61 C385.33,447.43 383.67,447.52 387,447.35 C390.33,447.18 388.67,447.26 392,447.11 C395.33,446.96 393.67,447.03 397,446.9 C400.33,446.78 400.33,446.79 402,446.73" fill="none" stroke="#000000" stroke-width="4" stroke-linejoin="round" stroke-linecap="butt"/>
<path d="M463.3,558.59 C463.4,557.48 463.33,557.05 463.6,555.26 C463.87,553.48 463.7,554.54 464.1,553.23 C464.5,551.91 464.23,552.63 464.8,551.33 C465.37,550.03 464.97,550.76 465.8,549.32 C466.63,547.89 466.13,548.59 467.3,547.02 C468.47,545.46 467.8,546.23 469.3,544.62 C470.8,543 469.8,543.93 471.8,542.18 C473.8,540.44 472.8,541.21 475.3,539.39 C477.8,537.58 476.3,538.56 479.3,536.73 C482.3,534.91 480.63,535.82 484.3,533.91 C487.97,532 485.97,532.95 490.3,531.01 C494.63,529.06 492.3,530.03 497.3,528.06 C502.3,526.1 499.97,526.97 505.3,525.11 C510.63,523.25 507.97,524.15 513.3,522.47 C518.63,520.79 515.97,521.61 521.3,520.07 C526.63,518.54 523.97,519.29 529.3,517.86 C534.63,516.44 531.97,517.13 537.3,515.8 C542.63,514.47 539.97,515.12 545.3,513.86 C550.63,512.61 547.97,513.23 553.3,512.04 C558.63,510.85 555.97,511.44 561.3,510.3 C566.63,509.15 563.97,509.71 569.3,508.6 C574.63,507.5 571.97,508.04 577.3,506.98 C582.63,505.92 579.97,506.44 585.3,505.42 C590.63,504.41 587.97,504.91 593.3,503.93 C598.63,502.95 595.97,503.43 601.3,502.49 C606.63,501.54 603.97,502.01 609.3,501.1 C614.63,500.18 611.97,500.63 617.3,499.75 C622.63,498.87 619.97,499.31 625.3,498.45 C630.63,497.6 627.97,498.02 633.3,497.2 C638.63,496.37 635.97,496.78 641.3,495.98 C646.63,495.18 643.97,495.57 649.3,494.8 C654.63,494.02 651.97,494.4 657.3,493.65 C662.63,492.9 659.97,493.27 665.3,492.54 C670.63,491.81 667.97,492.17 673.3,491.46 C678.63,490.76 675.97,491.11 681.3,490.42 C686.63,489.73 683.97,490.06 689.3,489.4 C694.63,488.75 691.97,489.08 697.3,488.46 C702.63,487.84 699.97,488.15 705.3,487.55 C710.63,486.95 707.97,487.24 713.3,486.66 C718.63,486.08 715.97,486.37 721.3,485.81 C726.63,485.25 723.97,485.52 729.3,484.98 C734.63,484.44 731.97,484.7 737.3,484.18 C742.63,483.65 739.97,483.91 745.3,483.4 C750.63,482.89 747.97,483.14 753.3,482.65 C758.63,482.16 755.97,482.4 761.3,481.93 C766.63,481.46 763.97,481.69 769.3,481.23 C774.63,480.78 771.97,481 777.3,480.56 C782.63,480.12 779.97,480.33 785.3,479.91 C790.63,479.49 787.97,479.7 793.3,479.29 C798.63,478.88 797.9,478.94 801.3,478.69 C804.7,478.44 802.77,478.58 803.5,478.53" fill="none" stroke="#cc0030" stroke-width="4" stroke-linejoin="round" stroke-linecap="butt"/>
<path d="M463.3,516.79 C464.97,516.68 464.97,516.68 468.3,516.46 C471.63,516.24 469.97,516.35 473.3,516.13 C476.63,515.9 474.97,516.01 478.3,515.79 C481.63,515.57 479.97,515.68 483.3,515.45 C486.63,515.23 484.97,515.34 488.3,515.12 C491.63,514.89 489.97,515 493.3,514.78 C496.63,514.55 494.97,514.67 498.3,514.44 C501.63,514.22 499.97,514.33 503.3,514.1 C506.63,513.88 504.97,513.99 508.3,513.76 C511.63,513.54 509.97,513.65 513.3,513.42 C516.63,513.19 514.97,513.31 518.3,513.08 C521.63,512.85 519.97,512.97 523.3,512.74 C526.63,512.51 524.97,512.62 528.3,512.4 C531.63,512.17 529.97,512.28 533.3,512.05 C536.63,511.82 534.97,511.94 538.3,511.71 C541.63,511.48 539.97,511.59 543.3,511.36 C546.63,511.13 544.97,511.25 548.3,511.02 C551.63,510.79 549.97,510.9 553.3,510.67 C556.63,510.44 554.97,510.56 558.3,510.32 C561.63,510.09 559.97,510.21 563.3,509.96 C566.63,509.72 564.97,509.84 568.3,509.59 C571.63,509.35 569.97,509.47 573.3,509.23 C576.63,508.98 574.97,509.1 578.3,508.86 C581.63,508.61 579.97,508.73 583.3,508.49 C586.63,508.24 584.97,508.36 588.3,508.12 C591.63,507.87 589.97,507.99 593.3,507.74 C596.63,507.5 594.97,507.62 598.3,507.37 C601.63,507.12 599.97,507.25 603.3,507 C606.63,506.75 604.97,506.87 608.3,506.62 C611.63,506.37 609.97,506.5 613.3,506.25 C616.63,506 614.97,506.12 618.3,505.87 C621.63,505.62 619.97,505.75 623.3,505.5 C626.63,505.25 624.97,505.37 628.3,505.12 C631.63,504.87 629.97,504.99 633.3,504.74 C636.63,504.49 634.97,504.62 638.3,504.36 C641.63,504.11 639.97,504.24 643.3,503.98 C646.63,503.73 644.97,503.86 648.3,503.6 C651.63,503.35 649.97,503.48 653.3,503.22 C656.63,502.97 654.97,503.1 658.3,502.84 C661.63,502.59 659.97,502.72 663.3,502.46 C666.63,502.21 664.97,502.33 668.3,502.08 C671.63,501.82 669.97,501.95 673.3,501.69 C676.63,501.44 674.97,501.57 678.3,501.31 C681.63,501.05 679.97,501.18 683.3,500.92 C686.63,500.67 684.97,500.79 688.3,500.54 C691.63,500.28 689.97,500.41 693.3,500.16 C696.63,499.92 694.97,500.04 698.3,499.8 C701.63,499.55 699.97,499.67 703.3,499.43 C706.63,499.18 704.97,499.3 708.3,499.06 C711.63,498.81 709.97,498.93 713.3,498.69 C716.63,498.44 714.97,498.56 718.3,498.31 C721.63,498.07 719.97,498.19 723.3,497.94 C726.63,497.69 724.97,497.82 728.3,497.57 C731.63,497.32 729.97,497.45 733.3,497.2 C736.63,496.95 734.97,497.07 738.3,496.82 C741.63,496.57 739.97,496.7 743.3,496.45 C746.63,496.2 744.97,496.32 748.3,496.07 C751.63,495.82 749.97,495.95 753.3,495.69 C756.63,495.44 754.97,495.57 758.3,495.32 C761.63,495.07 759.97,495.19 763.3,494.94 C766.63,494.69 764.97,494.81 768.3,494.56 C771.63,494.31 769.97,494.43 773.3,494.18 C776.63,493.93 774.97,494.05 778.3,493.8 C781.63,493.55 779.97,493.67 783.3,493.42 C786.63,493.17 784.97,493.29 788.3,493.04 C791.63,492.78 789.97,492.91 793.3,492.66 C796.63,492.4 794.97,492.53 798.3,492.27 C801.63,492.02 801.63,492.02 803.3,491.89" fill="none" stroke="#0039ad" stroke-width="4" stroke-linejoin="round" stroke-linecap="butt"/>
<path d="M463.3,542.05 C463.4,541.52 463.33,541.32 463.6,540.45 C463.87,539.58 463.7,540.1 464.1,539.44 C464.5,538.78 464.23,539.14 464.8,538.47 C465.37,537.8 464.97,538.18 465.8,537.42 C466.63,536.66 466.13,537.04 467.3,536.19 C468.47,535.33 467.8,535.76 469.3,534.85 C470.8,533.94 469.8,534.47 471.8,533.46 C473.8,532.44 472.8,532.9 475.3,531.8 C477.8,530.7 476.3,531.31 479.3,530.16 C482.3,529.02 480.63,529.6 484.3,528.36 C487.97,527.12 485.97,527.75 490.3,526.44 C494.63,525.13 492.3,525.79 497.3,524.42 C502.3,523.05 499.97,523.67 505.3,522.33 C510.63,520.99 507.97,521.65 513.3,520.4 C518.63,519.16 515.97,519.77 521.3,518.6 C526.63,517.44 523.97,518.01 529.3,516.91 C534.63,515.81 531.97,516.35 537.3,515.3 C542.63,514.25 539.97,514.77 545.3,513.76 C550.63,512.76 547.97,513.26 553.3,512.29 C558.63,511.33 555.97,511.82 561.3,510.88 C566.63,509.94 563.97,510.39 569.3,509.47 C574.63,508.56 571.97,509.01 577.3,508.12 C582.63,507.23 579.97,507.67 585.3,506.81 C590.63,505.95 587.97,506.37 593.3,505.54 C598.63,504.71 595.97,505.12 601.3,504.31 C606.63,503.5 603.97,503.9 609.3,503.12 C614.63,502.33 611.97,502.72 617.3,501.96 C622.63,501.19 619.97,501.57 625.3,500.83 C630.63,500.09 627.97,500.45 633.3,499.73 C638.63,499.01 635.97,499.37 641.3,498.67 C646.63,497.97 643.97,498.31 649.3,497.63 C654.63,496.95 651.97,497.29 657.3,496.63 C662.63,495.97 659.97,496.29 665.3,495.65 C670.63,495 667.97,495.32 673.3,494.7 C678.63,494.07 675.97,494.38 681.3,493.77 C686.63,493.16 683.97,493.45 689.3,492.87 C694.63,492.29 691.97,492.58 697.3,492.03 C702.63,491.49 699.97,491.76 705.3,491.23 C710.63,490.7 707.97,490.96 713.3,490.45 C718.63,489.93 715.97,490.19 721.3,489.69 C726.63,489.19 723.97,489.43 729.3,488.95 C734.63,488.47 731.97,488.71 737.3,488.24 C742.63,487.78 739.97,488.01 745.3,487.55 C750.63,487.1 747.97,487.33 753.3,486.89 C758.63,486.45 755.97,486.67 761.3,486.25 C766.63,485.83 763.97,486.03 769.3,485.63 C774.63,485.22 771.97,485.42 777.3,485.03 C782.63,484.64 779.97,484.83 785.3,484.46 C790.63,484.08 787.97,484.26 793.3,483.9 C798.63,483.54 797.9,483.6 801.3,483.37 C804.7,483.15 802.77,483.28 803.5,483.23" fill="none" stroke="#000000" stroke-width="4" stroke-linejoin="round" stroke-linecap="butt"/>
<path d="M62.8,886.2 L77.1,839.2 L92.8,819.5 L109,803.3 L127.9,787.9 L149.5,772.8 L171,760.1 L189.9,750.1 L200.7,743.9 L214.2,735 L230,726.9 L248.9,716.1 L267.8,706.9 L286.7,698.8 L308.3,691.3 L329.8,685.3 L348.7,679.1 L370.3,672.9 L389.2,667 L402.2,664.8" fill="none" stroke="#9b4e05" stroke-width="4.6" stroke-linejoin="round" stroke-linecap="butt"/>
<path d="M465.2,873.8 L469.6,852.3 L473.3,834.2 L475.7,828.2 L479.3,824 L484.1,821 L491.3,815.5 L501,810.1 L510.6,805.3 L520.2,801.1 L532.3,795.7 L544.3,790.6 L560,784.4 L567.8,781.2 L589.5,772.7 L611.1,765 L630,759.7 L651.7,753.6 L673.4,747.5 L695.1,742.3 L716.7,738 L738.4,733.6 L760.1,729.7 L781.8,726.8 L799.5,725.6" fill="none" stroke="#6a08d6" stroke-width="4.7" stroke-linejoin="round" stroke-linecap="butt"/>
<path d="M465.4,870.8 L470.8,854.7 L476.9,839 L481.7,831.8 L488.9,824.6 L498.6,817.3 L508.2,811.3 L520.2,804.1 L532.3,797.7 L544.3,792 L560,785.1 L567.8,781.4 L589.5,772.1 L611.1,764.3 L630,759 L651.7,752.9 L673.4,746.8 L695.1,741.6 L716.7,737.3 L738.4,732.9 L760.1,729 L781.8,726 L803,723.2" fill="none" stroke="#9b4e05" stroke-width="4.7" stroke-linejoin="round" stroke-linecap="butt"/>
<rect x="60" y="2" width="340.3" height="238.3" fill="none" stroke="#000" stroke-width="2.7"/>
<rect x="462.3" y="1.6" width="339.7" height="237.7" fill="none" stroke="#000" stroke-width="2.7"/>
<rect x="62.3" y="323.4" width="340.2" height="237.6" fill="none" stroke="#000" stroke-width="2.7"/>
<rect x="463.6" y="321.3" width="339.9" height="238.1" fill="none" stroke="#000" stroke-width="2.7"/>
<rect x="62.5" y="648.7" width="340.1" height="238" fill="none" stroke="#000" stroke-width="2.7"/>
<rect x="463.7" y="648.8" width="339.9" height="237.9" fill="none" stroke="#000" stroke-width="2.7"/>
<text x="62.3" y="271.1" font-family='"Liberation Sans", sans-serif' font-size="23.2" text-anchor="middle">0.00</text>
<text x="147.3" y="271.1" font-family='"Liberation Sans", sans-serif' font-size="23.2" text-anchor="middle">0.05</text>
<text x="232.3" y="271.1" font-family='"Liberation Sans", sans-serif' font-size="23.2" text-anchor="middle">0.10</text>
<text x="317.3" y="271.1" font-family='"Liberation Sans", sans-serif' font-size="23.2" text-anchor="middle">0.15</text>
<text x="402.3" y="271.1" font-family='"Liberation Sans", sans-serif' font-size="23.2" text-anchor="middle">0.20</text>
<text x="462.4" y="271.1" font-family='"Liberation Sans", sans-serif' font-size="23.2" text-anchor="middle">0.00</text>
<text x="547.25" y="271.1" font-family='"Liberation Sans", sans-serif' font-size="23.2" text-anchor="middle">0.05</text>
<text x="632.1" y="271.1" font-family='"Liberation Sans", sans-serif' font-size="23.2" text-anchor="middle">0.10</text>
<text x="716.95" y="271.1" font-family='"Liberation Sans", sans-serif' font-size="23.2" text-anchor="middle">0.15</text>
<text x="801.8" y="271.1" font-family='"Liberation Sans", sans-serif' font-size="23.2" text-anchor="middle">0.20</text>
<text x="62.4" y="591.8" font-family='"Liberation Sans", sans-serif' font-size="23.2" text-anchor="middle">0.00</text>
<text x="147.4" y="591.8" font-family='"Liberation Sans", sans-serif' font-size="23.2" text-anchor="middle">0.05</text>
<text x="232.4" y="591.8" font-family='"Liberation Sans", sans-serif' font-size="23.2" text-anchor="middle">0.10</text>
<text x="317.4" y="591.8" font-family='"Liberation Sans", sans-serif' font-size="23.2" text-anchor="middle">0.15</text>
<text x="402.4" y="591.8" font-family='"Liberation Sans", sans-serif' font-size="23.2" text-anchor="middle">0.20</text>
<text x="463.5" y="591.1" font-family='"Liberation Sans", sans-serif' font-size="23.2" text-anchor="middle">0.00</text>
<text x="548.5" y="591.1" font-family='"Liberation Sans", sans-serif' font-size="23.2" text-anchor="middle">0.05</text>
<text x="633.5" y="591.1" font-family='"Liberation Sans", sans-serif' font-size="23.2" text-anchor="middle">0.10</text>
<text x="718.5" y="591.1" font-family='"Liberation Sans", sans-serif' font-size="23.2" text-anchor="middle">0.15</text>
<text x="803.5" y="591.1" font-family='"Liberation Sans", sans-serif' font-size="23.2" text-anchor="middle">0.20</text>
<text x="62.4" y="918.4" font-family='"Liberation Sans", sans-serif' font-size="23.2" text-anchor="middle">0</text>
<text x="119.1" y="918.4" font-family='"Liberation Sans", sans-serif' font-size="23.2" text-anchor="middle">50</text>
<text x="175.8" y="918.4" font-family='"Liberation Sans", sans-serif' font-size="23.2" text-anchor="middle">100</text>
<text x="232.5" y="918.4" font-family='"Liberation Sans", sans-serif' font-size="23.2" text-anchor="middle">150</text>
<text x="289.2" y="918.4" font-family='"Liberation Sans", sans-serif' font-size="23.2" text-anchor="middle">200</text>
<text x="345.9" y="918.4" font-family='"Liberation Sans", sans-serif' font-size="23.2" text-anchor="middle">250</text>
<text x="402.6" y="918.4" font-family='"Liberation Sans", sans-serif' font-size="23.2" text-anchor="middle">300</text>
<text x="467" y="918.4" font-family='"Liberation Sans", sans-serif' font-size="23.2" text-anchor="middle">0</text>
<text x="523.67" y="918.4" font-family='"Liberation Sans", sans-serif' font-size="23.2" text-anchor="middle">50</text>
<text x="580.34" y="918.4" font-family='"Liberation Sans", sans-serif' font-size="23.2" text-anchor="middle">100</text>
<text x="637.01" y="918.4" font-family='"Liberation Sans", sans-serif' font-size="23.2" text-anchor="middle">150</text>
<text x="693.68" y="918.4" font-family='"Liberation Sans", sans-serif' font-size="23.2" text-anchor="middle">200</text>
<text x="750.35" y="918.4" font-family='"Liberation Sans", sans-serif' font-size="23.2" text-anchor="middle">250</text>
<text x="807.02" y="918.4" font-family='"Liberation Sans", sans-serif' font-size="23.2" text-anchor="middle">300</text>
<text x="52.2" y="62.9" font-family='"Liberation Sans", sans-serif' font-size="23.2" text-anchor="end">6</text>
<text x="52.2" y="124.3" font-family='"Liberation Sans", sans-serif' font-size="23.2" text-anchor="end">4</text>
<text x="52.2" y="185.2" font-family='"Liberation Sans", sans-serif' font-size="23.2" text-anchor="end">2</text>
<text x="52.2" y="246.2" font-family='"Liberation Sans", sans-serif' font-size="23.2" text-anchor="end">0</text>
<text x="53.9" y="568.4" font-family='"Liberation Sans", sans-serif' font-size="23.2" text-anchor="end">0</text>
<text x="53.9" y="507.4" font-family='"Liberation Sans", sans-serif' font-size="23.2" text-anchor="end">2</text>
<text x="53.9" y="446.4" font-family='"Liberation Sans", sans-serif' font-size="23.2" text-anchor="end">4</text>
<text x="53.9" y="385.4" font-family='"Liberation Sans", sans-serif' font-size="23.2" text-anchor="end">6</text>
<text x="48.2" y="894.5" font-family='"Liberation Sans", sans-serif' font-size="23.2" text-anchor="end">0</text>
<text x="48.2" y="815.17" font-family='"Liberation Sans", sans-serif' font-size="23.2" text-anchor="end">1</text>
<text x="48.2" y="735.84" font-family='"Liberation Sans", sans-serif' font-size="23.2" text-anchor="end">2</text>
<text x="48.2" y="656.51" font-family='"Liberation Sans", sans-serif' font-size="23.2" text-anchor="end">3</text>
<text x="817" y="56.9" font-family='"Liberation Sans", sans-serif' font-size="23.2" text-anchor="start">6</text>
<text x="817" y="118.1" font-family='"Liberation Sans", sans-serif' font-size="23.2" text-anchor="start">4</text>
<text x="817" y="179.1" font-family='"Liberation Sans", sans-serif' font-size="23.2" text-anchor="start">2</text>
<text x="817" y="240.3" font-family='"Liberation Sans", sans-serif' font-size="23.2" text-anchor="start">0</text>
<text x="817.2" y="567.8" font-family='"Liberation Sans", sans-serif' font-size="23.2" text-anchor="start">0</text>
<text x="817.2" y="506.8" font-family='"Liberation Sans", sans-serif' font-size="23.2" text-anchor="start">2</text>
<text x="817.2" y="445.8" font-family='"Liberation Sans", sans-serif' font-size="23.2" text-anchor="start">4</text>
<text x="817.2" y="384.8" font-family='"Liberation Sans", sans-serif' font-size="23.2" text-anchor="start">6</text>
<text x="817.2" y="894.8" font-family='"Liberation Sans", sans-serif' font-size="23.2" text-anchor="start">0</text>
<text x="817.2" y="815.5" font-family='"Liberation Sans", sans-serif' font-size="23.2" text-anchor="start">1</text>
<text x="817.2" y="736.2" font-family='"Liberation Sans", sans-serif' font-size="23.2" text-anchor="start">2</text>
<text x="817.2" y="656.9" font-family='"Liberation Sans", sans-serif' font-size="23.2" text-anchor="start">3</text>
<path d="M414.9,55.49 L416.98,54" stroke="#000" stroke-width="1.04" fill="none" stroke-linecap="round"/>
<path d="M416.78,54.4 L418.62,53.4 L421.24,61.19 L420.54,64.1 Z" fill="#000"/>
<path d="M420.74,63.6 L429.45,44.3 L449.9,44.3" stroke="#000" stroke-width="1.04" fill="none" stroke-linejoin="miter" stroke-linecap="butt"/>
<text transform="translate(429.43,63) scale(1.0209,1)" font-family='"Liberation Serif", serif' font-size="20.07">35</text>
<path d="M414.9,115.49 L416.98,114" stroke="#000" stroke-width="1.04" fill="none" stroke-linecap="round"/>
<path d="M416.78,114.4 L418.62,113.4 L421.24,121.19 L420.54,124.1 Z" fill="#000"/>
<path d="M420.74,123.6 L429.45,104.3 L449.9,104.3" stroke="#000" stroke-width="1.04" fill="none" stroke-linejoin="miter" stroke-linecap="butt"/>
<text transform="translate(429.82,123) scale(0.9700,1)" font-family='"Liberation Serif", serif' font-size="19.85">15</text>
<path d="M415.9,183.87 L418.76,181.83" stroke="#000" stroke-width="1.21" fill="none" stroke-linecap="round"/>
<path d="M418.56,182.23 L421.01,181.23 L424.42,191.7 L423.72,195.7 Z" fill="#000"/>
<path d="M423.92,195.2 L437.25,168.5 L451.7,168.5" stroke="#000" stroke-width="1.21" fill="none" stroke-linejoin="miter" stroke-linecap="butt"/>
<text transform="translate(436.98,194.71) scale(1.0231,1)" font-family='"Liberation Serif", serif' font-size="29.14">3</text>
<path d="M413.6,382.59 L415.68,381.1" stroke="#000" stroke-width="1.04" fill="none" stroke-linecap="round"/>
<path d="M415.48,381.5 L417.32,380.5 L419.94,388.29 L419.24,391.2 Z" fill="#000"/>
<path d="M419.44,390.7 L428.15,371.4 L448.6,371.4" stroke="#000" stroke-width="1.04" fill="none" stroke-linejoin="miter" stroke-linecap="butt"/>
<text transform="translate(428.13,390.1) scale(1.0209,1)" font-family='"Liberation Serif", serif' font-size="20.07">35</text>
<path d="M413.6,443.09 L415.68,441.6" stroke="#000" stroke-width="1.04" fill="none" stroke-linecap="round"/>
<path d="M415.48,442 L417.32,441 L419.94,448.79 L419.24,451.7 Z" fill="#000"/>
<path d="M419.44,451.2 L428.15,431.9 L448.6,431.9" stroke="#000" stroke-width="1.04" fill="none" stroke-linejoin="miter" stroke-linecap="butt"/>
<text transform="translate(428.52,450.6) scale(0.9700,1)" font-family='"Liberation Serif", serif' font-size="19.85">15</text>
<path d="M414.4,510.87 L417.26,508.83" stroke="#000" stroke-width="1.21" fill="none" stroke-linecap="round"/>
<path d="M417.06,509.23 L419.51,508.23 L422.92,518.7 L422.22,522.7 Z" fill="#000"/>
<path d="M422.42,522.2 L435.75,495.5 L450.2,495.5" stroke="#000" stroke-width="1.21" fill="none" stroke-linejoin="miter" stroke-linecap="butt"/>
<text transform="translate(435.48,521.71) scale(1.0231,1)" font-family='"Liberation Serif", serif' font-size="29.14">3</text>
<path d="M418.9,753.67 L421.76,751.63" stroke="#000" stroke-width="1.21" fill="none" stroke-linecap="round"/>
<path d="M421.56,752.03 L424.01,751.03 L427.42,761.5 L426.72,765.5 Z" fill="#000"/>
<path d="M426.92,765 L440.25,738.3 L454.7,738.3" stroke="#000" stroke-width="1.21" fill="none" stroke-linejoin="miter" stroke-linecap="butt"/>
<text transform="translate(439.98,764.51) scale(1.0231,1)" font-family='"Liberation Serif", serif' font-size="29.14">3</text>
<text transform="translate(71.13,31) scale(0.9888,1)" font-family='"Liberation Sans", sans-serif' font-size="27">(a)</text>
<text transform="translate(107.32,36.46) scale(1.0270,1)" font-family='"Liberation Serif", serif' font-size="29.25" font-style="italic">U</text>
<path d="M109.8,14.06 C111.79,11.5 115.77,11.13 119.75,12.67 S126.52,13.83 129.7,11.5 L129.8,12.2 C126.52,15.04 123.73,15.04 119.75,13.74 S112.98,12.34 109.9,14.76 Z" fill="#000" stroke="#000" stroke-width="0.35" stroke-linejoin="round"/>
<path d="M140.9,27.2 H159.6 M140.9,33 H159.6" stroke="#000" stroke-width="1.3" fill="none"/>
<text transform="translate(169.53,36.2) scale(1.0111,1)" font-family='"Liberation Serif", serif' font-size="26.82">11</text>
<text transform="translate(198.72,36.74) scale(1.0000,1)" font-family='"Liberation Serif", serif' font-size="28.8">,</text>
<text transform="translate(234.8,36.2) scale(1.1477,1)" font-family='"Liberation Serif", serif' font-size="27.8" font-style="italic">λ</text>
<path d="M234.5,14.08 C235.77,11.7 238.31,11.35 240.85,12.78 S245.17,13.87 247.2,11.7 L247.3,12.4 C245.17,15 243.39,15 240.85,13.78 S236.53,12.48 234.6,14.78 Z" fill="#000" stroke="#000" stroke-width="0.35" stroke-linejoin="round"/>
<path d="M258.3,27.2 H277.4 M258.3,33 H277.4" stroke="#000" stroke-width="1.3" fill="none"/>
<text transform="translate(286.9,36.2) scale(1.0902,1)" font-family='"Liberation Serif", serif' font-size="26.91">0.5</text>
<text transform="translate(471.13,31) scale(0.9888,1)" font-family='"Liberation Sans", sans-serif' font-size="27">(d)</text>
<text transform="translate(507.32,36.26) scale(1.0270,1)" font-family='"Liberation Serif", serif' font-size="29.25" font-style="italic">U</text>
<path d="M509.8,13.86 C511.79,11.31 515.77,10.93 519.75,12.47 S526.52,13.63 529.7,11.31 L529.8,12.01 C526.52,14.84 523.73,14.84 519.75,13.54 S512.98,12.14 509.9,14.56 Z" fill="#000" stroke="#000" stroke-width="0.35" stroke-linejoin="round"/>
<path d="M540.9,27 H559.6 M540.9,32.8 H559.6" stroke="#000" stroke-width="1.3" fill="none"/>
<text transform="translate(568.57,36.13) scale(0.9908,1)" font-family='"Liberation Serif", serif' font-size="26.91">6</text>
<text transform="translate(584.32,36.54) scale(1.0000,1)" font-family='"Liberation Serif", serif' font-size="28.8">,</text>
<text transform="translate(620.4,36) scale(1.1477,1)" font-family='"Liberation Serif", serif' font-size="27.8" font-style="italic">λ</text>
<path d="M620.1,13.89 C621.37,11.5 623.91,11.15 626.45,12.58 S630.77,13.67 632.8,11.5 L632.9,12.2 C630.77,14.8 628.99,14.8 626.45,13.58 S622.13,12.28 620.2,14.59 Z" fill="#000" stroke="#000" stroke-width="0.35" stroke-linejoin="round"/>
<path d="M643.9,27 H663 M643.9,32.8 H663" stroke="#000" stroke-width="1.3" fill="none"/>
<text transform="translate(671.58,35.7) scale(1.0938,1)" font-family='"Liberation Serif", serif' font-size="26.37">1.1</text>
<text transform="translate(71.13,351.6) scale(0.9888,1)" font-family='"Liberation Sans", sans-serif' font-size="27">(b)</text>
<text transform="translate(107.32,357.66) scale(1.0270,1)" font-family='"Liberation Serif", serif' font-size="29.25" font-style="italic">U</text>
<path d="M109.8,335.26 C111.79,332.71 115.77,332.33 119.75,333.87 S126.52,335.03 129.7,332.71 L129.8,333.41 C126.52,336.24 123.73,336.24 119.75,334.94 S112.98,333.54 109.9,335.96 Z" fill="#000" stroke="#000" stroke-width="0.35" stroke-linejoin="round"/>
<path d="M140.9,348.4 H159.6 M140.9,354.2 H159.6" stroke="#000" stroke-width="1.3" fill="none"/>
<text transform="translate(168.69,357.53) scale(1.0003,1)" font-family='"Liberation Serif", serif' font-size="26.81">8</text>
<text transform="translate(184.32,357.94) scale(1.0000,1)" font-family='"Liberation Serif", serif' font-size="28.8">,</text>
<text transform="translate(220.4,357.4) scale(1.1477,1)" font-family='"Liberation Serif", serif' font-size="27.8" font-style="italic">λ</text>
<path d="M220.1,335.28 C221.37,332.9 223.91,332.55 226.45,333.98 S230.77,335.07 232.8,332.9 L232.9,333.6 C230.77,336.2 228.99,336.2 226.45,334.98 S222.13,333.68 220.2,335.98 Z" fill="#000" stroke="#000" stroke-width="0.35" stroke-linejoin="round"/>
<path d="M243.9,348.4 H263 M243.9,354.2 H263" stroke="#000" stroke-width="1.3" fill="none"/>
<text transform="translate(272.5,357.4) scale(1.0902,1)" font-family='"Liberation Serif", serif' font-size="26.91">0.5</text>
<text transform="translate(471.83,349.8) scale(0.9888,1)" font-family='"Liberation Sans", sans-serif' font-size="27">(e)</text>
<text transform="translate(508.02,356.56) scale(1.0270,1)" font-family='"Liberation Serif", serif' font-size="29.25" font-style="italic">U</text>
<path d="M510.5,334.16 C512.49,331.61 516.47,331.23 520.45,332.77 S527.22,333.93 530.4,331.61 L530.5,332.31 C527.22,335.14 524.43,335.14 520.45,333.84 S513.68,332.44 510.6,334.86 Z" fill="#000" stroke="#000" stroke-width="0.35" stroke-linejoin="round"/>
<path d="M541.6,347.3 H560.3 M541.6,353.1 H560.3" stroke="#000" stroke-width="1.3" fill="none"/>
<text transform="translate(569.27,356.43) scale(0.9908,1)" font-family='"Liberation Serif", serif' font-size="26.91">6</text>
<text transform="translate(585.02,356.84) scale(1.0000,1)" font-family='"Liberation Serif", serif' font-size="28.8">,</text>
<text transform="translate(621.1,356.3) scale(1.1477,1)" font-family='"Liberation Serif", serif' font-size="27.8" font-style="italic">λ</text>
<path d="M620.8,334.18 C622.07,331.8 624.61,331.45 627.15,332.88 S631.47,333.97 633.5,331.8 L633.6,332.5 C631.47,335.1 629.69,335.1 627.15,333.88 S622.83,332.58 620.9,334.88 Z" fill="#000" stroke="#000" stroke-width="0.35" stroke-linejoin="round"/>
<path d="M644.6,347.3 H663.7 M644.6,353.1 H663.7" stroke="#000" stroke-width="1.3" fill="none"/>
<text transform="translate(672.2,356.3) scale(1.1138,1)" font-family='"Liberation Serif", serif' font-size="26.72">1.6</text>
<text x="71.4" y="673.1" font-family='"Liberation Sans", sans-serif' font-size="27" text-anchor="start">(c) Exp.</text>
<text x="472.3" y="672.8" font-family='"Liberation Sans", sans-serif' font-size="27" text-anchor="start">(f) Exp.</text>
<text x="490.5" y="83.9" font-family='"Liberation Sans", sans-serif' font-size="23.2" text-anchor="start">H</text>
<text x="535.7" y="83.9" font-family='"Liberation Sans", sans-serif' font-size="23.2" text-anchor="start">c</text>
<path d="M515.1,83.3 H529.9 M522.5,83.3 V68.3" stroke="#000" stroke-width="1.25" fill="none"/>
<text x="497" y="112.5" font-family='"Liberation Sans", sans-serif' font-size="23.2" text-anchor="start">H</text>
<text x="535.7" y="112.5" font-family='"Liberation Sans", sans-serif' font-size="23.2" text-anchor="start">c</text>
<path d="M522.6,97.2 V116.9 M527.0,97.2 V116.9" stroke="#000" stroke-width="1.2" fill="none"/>
<text x="546.9" y="140.6" font-family='"Liberation Sans", sans-serif' font-size="23.2" text-anchor="end">Ave.</text>
<line x1="563.5" y1="79.6" x2="585.2" y2="79.6" stroke="#cc0030" stroke-width="4.3"/>
<line x1="563.5" y1="106.6" x2="585.2" y2="106.6" stroke="#0039ad" stroke-width="4.3"/>
<line x1="563.5" y1="135.4" x2="585.2" y2="135.4" stroke="#000000" stroke-width="4.3"/>
<text x="360.2" y="814.9" font-family='"Liberation Sans", sans-serif' font-size="23.4" text-anchor="end"><tspan dy="0">Ba</tspan><tspan font-size="20" dy="7.3">3</tspan><tspan dy="-7.3">LiRu</tspan><tspan font-size="20" dy="7.3">2</tspan><tspan dy="-7.3">O</tspan><tspan font-size="20" dy="7.3">9</tspan></text>
<line x1="374.0" y1="809.5" x2="388.3" y2="809.5" stroke="#9b4e05" stroke-width="4.3"/>
<text x="740.6" y="815.1" font-family='"Liberation Sans", sans-serif' font-size="22.95" text-anchor="end"><tspan dy="0">Ba</tspan><tspan font-size="20" dy="7.3">3</tspan><tspan dy="-7.3">NaOs</tspan><tspan font-size="20" dy="7.3">2</tspan><tspan dy="-7.3">O</tspan><tspan font-size="20" dy="7.3">9</tspan></text>
<text x="740.6" y="843.3" font-family='"Liberation Sans", sans-serif' font-size="22.95" text-anchor="end"><tspan dy="0">Ba</tspan><tspan font-size="20" dy="7.3">3</tspan><tspan dy="-7.3">LiOs</tspan><tspan font-size="20" dy="7.3">2</tspan><tspan dy="-7.3">O</tspan><tspan font-size="20" dy="7.3">9</tspan></text>
<line x1="755.2" y1="809.2" x2="776.8" y2="809.2" stroke="#6a08d6" stroke-width="4.3"/>
<line x1="755.2" y1="837.6" x2="776.8" y2="837.6" stroke="#9b4e05" stroke-width="4.3"/>
<path d="M222.27,287.65 H242" stroke="#000" stroke-width="1.25" fill="none"/>
<path d="M222.82,287.7 L220.64,294 M241.56,287.7 L240.47,294" stroke="#000" stroke-width="1.15" fill="none" stroke-linecap="round"/>
<path d="M232.95,287.7 L228.7,308.1" stroke="#000" stroke-width="2.45" fill="none"/>
<path d="M221.18,308.05 H233.28" stroke="#000" stroke-width="1.15" fill="none"/>
<path d="M223.6,280.78 C225.54,278.4 229.42,278.05 233.3,279.48 S239.9,280.57 243,278.4 L243.1,279.1 C239.9,281.7 237.18,281.7 233.3,280.48 S226.7,279.18 223.7,281.48 Z" fill="#000" stroke="#000" stroke-width="0.35" stroke-linejoin="round"/>
<path d="M620.26,285.75 H639.9" stroke="#000" stroke-width="1.25" fill="none"/>
<path d="M620.8,285.8 L618.63,292.1 M639.47,285.8 L638.38,292.1" stroke="#000" stroke-width="1.15" fill="none" stroke-linecap="round"/>
<path d="M630.89,285.8 L626.66,306.2" stroke="#000" stroke-width="2.45" fill="none"/>
<path d="M619.18,306.15 H631.22" stroke="#000" stroke-width="1.15" fill="none"/>
<path d="M618.6,279.28 C620.54,276.9 624.42,276.55 628.3,277.98 S634.9,279.07 638,276.9 L638.1,277.6 C634.9,280.2 632.18,280.2 628.3,278.98 S621.7,277.68 618.7,279.98 Z" fill="#000" stroke="#000" stroke-width="0.35" stroke-linejoin="round"/>
<path d="M224.39,614.36 H244.3" stroke="#000" stroke-width="1.28" fill="none"/>
<path d="M224.94,614.41 L222.74,620.86 M243.86,614.41 L242.76,620.86" stroke="#000" stroke-width="1.18" fill="none" stroke-linecap="round"/>
<path d="M235.17,614.41 L230.88,635.29" stroke="#000" stroke-width="2.51" fill="none"/>
<path d="M223.29,635.24 H235.5" stroke="#000" stroke-width="1.18" fill="none"/>
<path d="M224,609.29 C225.99,606.9 229.97,606.55 233.95,607.98 S240.72,609.07 243.9,606.9 L244,607.6 C240.72,610.2 237.93,610.2 233.95,608.98 S227.18,607.68 224.1,609.99 Z" fill="#000" stroke="#000" stroke-width="0.35" stroke-linejoin="round"/>
<path d="M622.1,614.36 H642.1" stroke="#000" stroke-width="1.28" fill="none"/>
<path d="M622.65,614.41 L620.44,620.86 M641.66,614.41 L640.55,620.86" stroke="#000" stroke-width="1.18" fill="none" stroke-linecap="round"/>
<path d="M632.93,614.41 L628.62,635.29" stroke="#000" stroke-width="2.51" fill="none"/>
<path d="M620.99,635.24 H633.26" stroke="#000" stroke-width="1.18" fill="none"/>
<path d="M622.8,608.79 C624.7,606.4 628.5,606.05 632.3,607.48 S638.76,608.57 641.8,606.4 L641.9,607.1 C638.76,609.7 636.1,609.7 632.3,608.48 S625.84,607.18 622.9,609.49 Z" fill="#000" stroke="#000" stroke-width="0.35" stroke-linejoin="round"/>
<path d="M217.13,937.39 H234.6" stroke="#000" stroke-width="1.1" fill="none"/>
<path d="M217.62,937.43 L215.69,943 M234.21,937.43 L233.25,943" stroke="#000" stroke-width="1.02" fill="none" stroke-linecap="round"/>
<path d="M226.59,937.43 L222.83,955.46" stroke="#000" stroke-width="2.17" fill="none"/>
<path d="M216.17,955.41 H226.88" stroke="#000" stroke-width="1.02" fill="none"/>
<text transform="translate(245.65,956.46) scale(0.8032,1)" font-family='"Liberation Serif", serif' font-size="31.74">(</text>
<text transform="translate(255.1,955.9) scale(1.0355,1)" font-family='"Liberation Serif", serif' font-size="29.01">K</text>
<text transform="translate(278.35,956.46) scale(0.8199,1)" font-family='"Liberation Serif", serif' font-size="31.74">)</text>
<path d="M607.73,937.39 H625.2" stroke="#000" stroke-width="1.1" fill="none"/>
<path d="M608.22,937.43 L606.29,943 M624.81,937.43 L623.85,943" stroke="#000" stroke-width="1.02" fill="none" stroke-linecap="round"/>
<path d="M617.19,937.43 L613.43,955.46" stroke="#000" stroke-width="2.17" fill="none"/>
<path d="M606.77,955.41 H617.48" stroke="#000" stroke-width="1.02" fill="none"/>
<text transform="translate(636.25,956.46) scale(0.8032,1)" font-family='"Liberation Serif", serif' font-size="31.74">(</text>
<text transform="translate(645.7,955.9) scale(1.0355,1)" font-family='"Liberation Serif", serif' font-size="29.01">K</text>
<text transform="translate(668.95,956.46) scale(0.8199,1)" font-family='"Liberation Serif", serif' font-size="31.74">)</text>
<g transform="translate(21.5,657.5) rotate(-90)">
<text transform="translate(-0.53,-0.09) scale(0.9599,1)" font-family='"Liberation Serif", serif' font-size="28.67">Effective</text>
<text transform="translate(109.2,-0) scale(0.9918,1)" font-family='"Liberation Serif", serif' font-size="30.23">Moment</text>
<text transform="translate(222.3,-0.13) scale(1.1598,1)" font-family='"Liberation Serif", serif' font-size="27.11" font-style="italic">μ</text>
<text transform="translate(238.79,-11.6) scale(1.2090,1)" font-family='"Liberation Serif", serif' font-size="19.69" font-style="italic">α</text>
<text transform="translate(238.06,6.55) scale(1.0462,1)" font-family='"Liberation Serif", serif' font-size="20.07">eff</text>
<text transform="translate(265.96,0.02) scale(0.8865,1)" font-family='"Liberation Serif", serif' font-size="30.96">(</text>
<path d="M279.28,-19 H296.2" stroke="#000" stroke-width="1.13" fill="none"/>
<path d="M279.74,-18.96 L277.87,-13.24 M295.83,-18.96 L294.89,-13.24" stroke="#000" stroke-width="1.04" fill="none" stroke-linecap="round"/>
<path d="M288.44,-18.96 L284.79,-0.45" stroke="#000" stroke-width="2.22" fill="none"/>
<path d="M278.34,-0.5 H288.72" stroke="#000" stroke-width="1.04" fill="none"/>
<text transform="translate(297.64,0.02) scale(0.8528,1)" font-family='"Liberation Serif", serif' font-size="30.96">)</text>
<path d="M309.6,6.6 L318.7,-21.5" stroke="#000" stroke-width="1.2" fill="none"/>
<text transform="translate(322.2,-0.13) scale(1.1677,1)" font-family='"Liberation Serif", serif' font-size="27.11" font-style="italic">μ</text>
<text transform="translate(340.16,3.95) scale(1.1670,1)" font-family='"Liberation Serif", serif' font-size="20.68" font-style="italic">B</text>
</g>
</svg>
</body></html>
